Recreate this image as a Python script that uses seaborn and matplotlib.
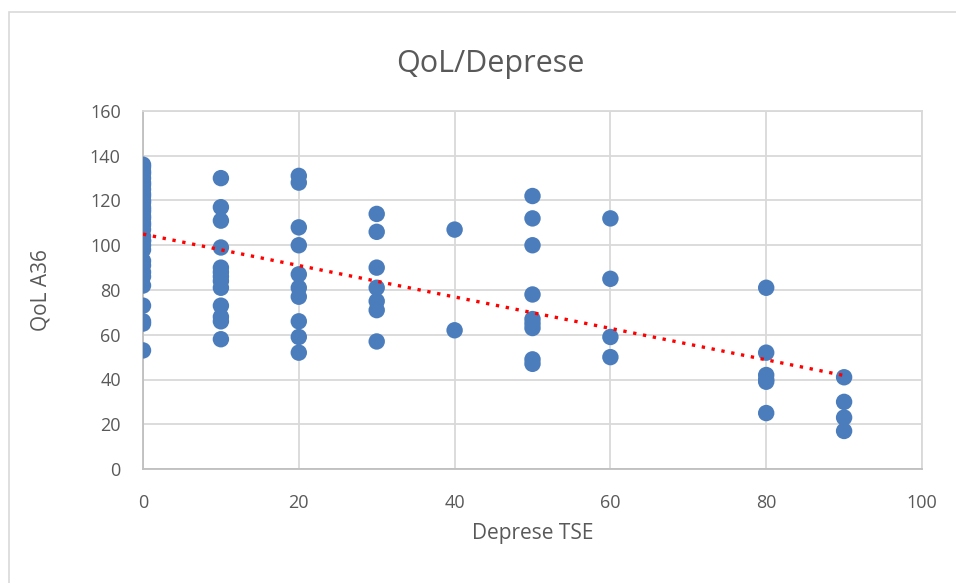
import numpy as np
import pandas as pd
import matplotlib
matplotlib.use("Agg")
import matplotlib.pyplot as plt
import seaborn as sns
from matplotlib.patches import Rectangle

# --- data (x=0 column has many overlapping points) ---
dep_0 = [136, 135, 133, 132, 130, 128, 127, 125, 123, 122, 120, 119, 117, 116,
         115, 113, 112, 110, 109, 107, 104, 102, 102, 100, 98, 93, 91, 88, 86,
         82, 73, 66, 65, 53]
dep_10 = [130, 117, 111, 99, 90, 88, 86, 84, 81, 73, 68, 66, 58]
dep_20 = [131, 128, 108, 100, 87, 81, 77, 66, 59, 52]
dep_30 = [114, 106, 90, 81, 75, 71, 57]
dep_40 = [107, 62]
dep_50 = [122, 112, 100, 78, 67, 65, 63, 49, 47]
dep_60 = [112, 85, 59, 50]
dep_80 = [81, 52, 42, 40, 39, 25]
dep_90 = [41, 30, 23, 17]

groups = {0: dep_0, 10: dep_10, 20: dep_20, 30: dep_30, 40: dep_40,
          50: dep_50, 60: dep_60, 80: dep_80, 90: dep_90}

rows = [(k, v) for k, vals in groups.items() for v in vals]
df = pd.DataFrame(rows, columns=["tse", "qol"])

sns.set_theme(style="white")
plt.rcParams["font.family"] = ["Open Sans", "DejaVu Sans"]

fig = plt.figure(figsize=(9.56, 5.83), dpi=100)
ax = fig.add_axes([143 / 956, 114 / 583, 779 / 956, 358 / 583])

# outer chart frame (Excel style)
fig.patches.append(Rectangle((9 / 956, -0.01), 1.02, 1 - 12 / 583 + 0.01,
                             transform=fig.transFigure, fill=False,
                             edgecolor="#d9d9d9", linewidth=1.2))

sns.scatterplot(data=df, x="tse", y="qol", ax=ax, s=140, color="#4b7dbd",
                edgecolor="none", linewidth=0, zorder=3)

# linear trendline
coef = np.polyfit(df["tse"], df["qol"], 1)
xs = np.array([df["tse"].min(), df["tse"].max()])
ax.plot(xs, np.polyval(coef, xs), color="#ff0000", linestyle=(0, (1, 2)),
        linewidth=2.4, zorder=4)

ax.set_xlim(0, 100)
ax.set_ylim(0, 160)
ax.set_xticks(range(0, 101, 20))
ax.set_yticks(range(0, 161, 20))
ax.grid(True, color="#d9d9d9", linewidth=1.3)
ax.set_axisbelow(True)
for side in ["top", "right"]:
    ax.spines[side].set_color("#d9d9d9")
    ax.spines[side].set_linewidth(1.3)
for side in ["left", "bottom"]:
    ax.spines[side].set_color("#bfbfbf")
    ax.spines[side].set_linewidth(1.3)
ax.tick_params(axis="both", length=0, labelsize=13, colors="#595959")
ax.tick_params(axis="y", pad=16)
ax.tick_params(axis="x", pad=18)

# title centred on the whole chart, not the plot area
ax.set_title("QoL/Deprese", fontsize=22, color="#595959", pad=28,
             x=(490 - 143) / 779)
ax.set_xlabel("Deprese TSE", fontsize=15, color="#595959", labelpad=8)
ax.set_ylabel("QoL A36", fontsize=15, color="#595959", labelpad=28)

fig.savefig("out.png", dpi=100)
